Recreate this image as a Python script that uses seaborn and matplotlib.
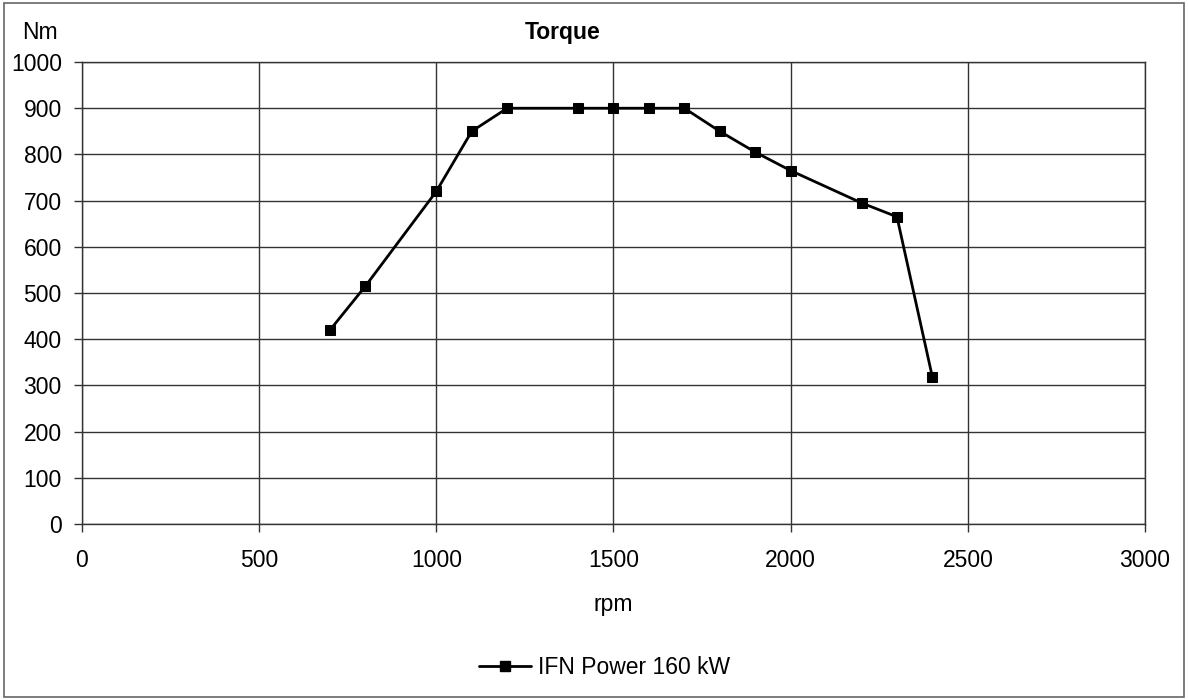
import pandas as pd
import matplotlib
matplotlib.use("Agg")
import matplotlib.pyplot as plt
import seaborn as sns

# Torque curve
rpm = [700, 800, 1000, 1100, 1200, 1400, 1500, 1600, 1700, 1800, 1900, 2000, 2200, 2300, 2400]
torque = [420, 515, 720, 850, 900, 900, 900, 900, 900, 850, 805, 765, 695, 665, 318]
series_name = "IFN Power 160 kW"
x_ticks = [0, 500, 1000, 1500, 2000, 2500, 3000]
y_ticks = [0, 100, 200, 300, 400, 500, 600, 700, 800, 900, 1000]

df = pd.DataFrame({"rpm": rpm, "torque": torque, "series": series_name})

sns.set_style("white")
plt.rcParams["font.family"] = ["Liberation Sans", "DejaVu Sans"]
plt.rcParams["text.color"] = "black"
plt.rcParams["xtick.color"] = "#333333"
plt.rcParams["ytick.color"] = "#333333"
plt.rcParams["xtick.labelcolor"] = "black"
plt.rcParams["ytick.labelcolor"] = "black"
fs = 16.5

fig = plt.figure(figsize=(11.88, 7), dpi=100)
ax = fig.add_axes([0.069, 0.2514, 0.8948, 0.66])

sns.lineplot(data=df, x="rpm", y="torque", hue="series", palette=["black"],
             marker="s", markersize=7, markeredgecolor="black", linewidth=2,
             ax=ax, legend=False)

ax.set_xlim(0, 3000)
ax.set_ylim(0, 1000)
ax.set_xticks(x_ticks)
ax.set_yticks(y_ticks)
ax.grid(True, color="#333333", linewidth=1)
ax.tick_params(axis="both", direction="out", length=6, width=1,
               labelsize=fs, left=True, bottom=True)
ax.tick_params(axis="y", pad=8.5)
ax.tick_params(axis="x", pad=12)
for side in ["top", "right", "left", "bottom"]:
    ax.spines[side].set_color("#333333")
    ax.spines[side].set_linewidth(1)
ax.set_xlabel("")
ax.set_ylabel("")

fig.text(0.474, 0.953, "Torque", ha="center", va="center", fontweight="bold", fontsize=fs)
fig.text(0.034, 0.953, "Nm", ha="center", va="center", fontsize=fs)
fig.text(0.516, 0.136, "rpm", ha="center", va="center", fontsize=fs)

handle = plt.Line2D([], [], color="black", marker="s", markersize=7, linewidth=2)
fig.legend([handle], [series_name], loc="center", bbox_to_anchor=(0.509, 0.046),
           frameon=False, fontsize=fs, handlelength=2.27, handletextpad=0.3)

border = plt.Rectangle((0.003, 0.004), 0.994, 0.992, transform=fig.transFigure,
                       fill=False, edgecolor="#666666", linewidth=1.2)
fig.patches.append(border)

fig.savefig("out.png", dpi=100)
